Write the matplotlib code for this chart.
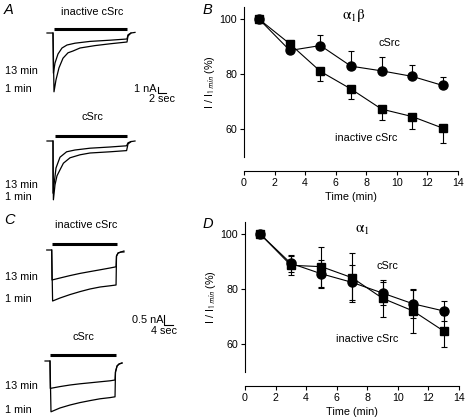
import numpy as np
import matplotlib
matplotlib.use('Agg')
import matplotlib.pyplot as plt

plt.rcParams['font.family'] = ['Liberation Sans', 'DejaVu Sans']
plt.rcParams['mathtext.fontset'] = 'stix'

# Time course data (panel B: alpha1 beta, panel D: alpha1)
timeMin = [1, 3, 5, 7, 9, 11, 13]
b_csrc = [100, 88.7, 90.5, 83.0, 81.3, 79.3, 76.0]
b_csrcErr = [0, 0.5, 4.0, 5.5, 5.0, 4.2, 3.0]
b_inact = [100, 91.1, 81.1, 74.7, 67.4, 64.7, 60.5]
b_inactErr = [0, 0.5, 3.6, 3.7, 3.8, 4.6, 5.5]

d_csrc = [100, 89.4, 85.6, 82.5, 78.6, 74.7, 72.1]
d_csrcErr = [0, 3.0, 5.0, 6.4, 4.2, 5.0, 3.8]
d_inact = [100, 88.7, 88.2, 84.2, 76.7, 72.1, 64.8]
d_inactErr = [0, 3.4, 7.3, 8.9, 6.7, 8.0, 5.7]

# Current traces (time in s, current in nA)
# A, inactive cSrc
a1_t13 = [-1.5, 0, 0.1, 0.5, 1.25, 2.25, 3.5, 5.5, 9.25, 14.25, 18.5, 18.75, 19.5, 20.5]
a1_i13 = [0, 0, -6.7, -5.0, -3.5, -2.5, -2.0, -1.7, -1.4, -1.2, -1.0, -0.3, 0, 0.1]
a1_t1 = [0, 0.25, 0.75, 1.5, 2.5, 3.75, 5, 6.75, 10.5, 14.25, 18.5, 18.75, 19.5]
a1_i1 = [0, -9.8, -7.8, -5.8, -4.2, -3.3, -3.0, -2.5, -2.1, -1.8, -1.5, -0.5, 0]
# A, cSrc
a2_t13 = [-1.5, 0, 0, 0.75, 1.75, 3.4, 5.5, 9.25, 14.25, 18.4, 18.75, 19.5, 20.5]
a2_i13 = [0, 0, -8.7, -4.5, -2.7, -1.8, -1.5, -1.2, -1.0, -0.8, -0.3, -0.1, 0]
a2_t1 = [0, 0.1, 0.5, 1, 1.75, 2.6, 4.25, 6.75, 9.25, 14.25, 18.4, 18.75, 19.5]
a2_i1 = [0, -9.8, -7.3, -5.8, -4.8, -3.7, -2.8, -2.3, -2.0, -1.8, -1.6, -0.5, -0.1]
# C, inactive cSrc
c1_t13 = [-2.2, 0, 0.13, 3.7, 8.1, 12.6, 17.0, 21.5, 25.9, 28.6, 28.8, 29.5, 30.8, 32.1]
c1_i13 = [0, 0, -1.5, -1.4, -1.28, -1.17, -1.08, -0.99, -0.9, -0.84, -0.3, -0.15, -0.1, -0.1]
c1_t1 = [0, 0.4, 3.7, 8.1, 12.6, 17.0, 21.5, 25.9, 28.6, 28.8, 29.5, 30.8, 32.1]
c1_i1 = [0, -2.55, -2.4, -2.23, -2.08, -1.95, -1.85, -1.79, -1.75, -0.3, -0.15, -0.1, -0.05]
# C, cSrc
c2_t13 = [-2.2, 0, 0.13, 4.4, 8.9, 13.3, 17.8, 22.2, 26.7, 28.9, 29.1, 29.8, 30.7, 32]
c2_i13 = [0, 0, -1.37, -1.28, -1.2, -1.14, -1.09, -1.04, -0.99, -0.95, -0.55, -0.25, -0.15, -0.1]
c2_t1 = [0, 0.44, 4.4, 8.9, 13.3, 17.8, 22.2, 26.7, 28.9, 29.1, 29.8, 30.7, 32]
c2_i1 = [0, -2.54, -2.35, -2.2, -2.08, -1.98, -1.89, -1.83, -1.79, -0.55, -0.25, -0.15, -0.1]

# Agonist application bars (start, end, level)
a1_bar = (0.25, 18.5, 0.67)
a2_bar = (0.5, 18.5, 0.83)
c1_bar = (0, 28.9, 0.29)
c2_bar = (0, 29.3, 0.3)

W, H = 468, 420
fig = plt.figure(figsize=(W / 100, H / 100), dpi=100)

def fx(x):
    return x / W

def fy(y):
    return 1 - y / H

# Transparent full-figure axes, scaled so time 0 / current 0 land at (x0, y0) pixels
def trace_axes(x0, y0, px_s, px_na):
    ax = fig.add_axes([0, 0, 1, 1])
    ax.set_xlim(-x0 / px_s, (W - x0) / px_s)
    ax.set_ylim((y0 - H) / px_na, y0 / px_na)
    ax.axis('off')
    ax.patch.set_alpha(0)
    return ax

def draw_traces(ax, t13, i13, t1, i1, bar):
    ax.plot(t13, i13, color='black', lw=0.9)
    ax.plot(t1, i1, color='black', lw=0.9)
    ax.plot([bar[0], bar[1]], [bar[2], bar[2]], color='black', lw=2.2, solid_capstyle='butt')

axA1 = trace_axes(53, 33, 4.0, 6.0)
draw_traces(axA1, a1_t13, a1_i13, a1_t1, a1_i1, a1_bar)
axA1.plot([26.25, 26.25, 28.25], [-8.95, -9.95, -9.95], color='black', lw=0.8)

axA2 = trace_axes(53, 141, 4.0, 6.0)
draw_traces(axA2, a2_t13, a2_i13, a2_t1, a2_i1, a2_bar)

axC1 = trace_axes(51.7, 250, 2.25, 20.0)
draw_traces(axC1, c1_t13, c1_i13, c1_t1, c1_i1, c1_bar)
axC1.plot([49.9, 49.9, 53.9], [-3.25, -3.75, -3.75], color='black', lw=0.8)

axC2 = trace_axes(50, 361, 2.25, 20.0)
draw_traces(axC2, c2_t13, c2_i13, c2_t1, c2_i1, c2_bar)

fs = 7.8
# Trace labels
fig.text(fx(4), fy(10), 'A', fontsize=10.5, style='italic', va='center')
fig.text(fx(92), fy(12), 'inactive cSrc', fontsize=fs, ha='center', va='center')
fig.text(fx(5), fy(70.5), '13 min', fontsize=fs, va='center')
fig.text(fx(5), fy(89), '1 min', fontsize=fs, va='center')
fig.text(fx(157), fy(89), '1 nA', fontsize=fs, ha='right', va='center')
fig.text(fx(162), fy(99.5), '2 sec', fontsize=fs, ha='center', va='center')
fig.text(fx(92), fy(117), 'cSrc', fontsize=fs, ha='center', va='center')
fig.text(fx(5), fy(185), '13 min', fontsize=fs, va='center')
fig.text(fx(5), fy(197.5), '1 min', fontsize=fs, va='center')

fig.text(fx(4), fy(220), 'C', fontsize=10.5, style='italic', va='center')
fig.text(fx(86), fy(225), 'inactive cSrc', fontsize=fs, ha='center', va='center')
fig.text(fx(5), fy(277), '13 min', fontsize=fs, va='center')
fig.text(fx(5), fy(299.5), '1 min', fontsize=fs, va='center')
fig.text(fx(163), fy(320), '0.5 nA', fontsize=fs, ha='right', va='center')
fig.text(fx(164), fy(331.5), '4 sec', fontsize=fs, ha='center', va='center')
fig.text(fx(83), fy(337), 'cSrc', fontsize=fs, ha='center', va='center')
fig.text(fx(5), fy(386), '13 min', fontsize=fs, va='center')
fig.text(fx(5), fy(410), '1 min', fontsize=fs, va='center')

fig.text(fx(203), fy(10), 'B', fontsize=10.5, style='italic', va='center')
fig.text(fx(203), fy(224), 'D', fontsize=10.5, style='italic', va='center')

# Time course plots
def time_plot(rect, csrc, csrcErr, inact, inactErr, both):
    ax = fig.add_axes(rect)
    if both:
        errC = csrcErr
        errI = inactErr
    else:
        errC = [np.zeros(len(csrcErr)), csrcErr]
        errI = [inactErr, np.zeros(len(inactErr))]
    ax.errorbar(timeMin, inact, yerr=errI, color='black', marker='s', ms=6.3,
                lw=0.8, elinewidth=0.8, capsize=2, capthick=0.8)
    ax.errorbar(timeMin, csrc, yerr=errC, color='black', marker='o', ms=6.5,
                lw=0.8, elinewidth=0.8, capsize=2, capthick=0.8)
    ax.set_xlim(0, 14)
    ax.set_ylim(50, 104.5)
    ax.set_xticks(range(0, 15, 2))
    ax.set_yticks([60, 80, 100])
    ax.spines['top'].set_visible(False)
    ax.spines['right'].set_visible(False)
    ax.spines['bottom'].set_position(('outward', 10))
    ax.spines['left'].set_linewidth(0.8)
    ax.spines['bottom'].set_linewidth(0.8)
    ax.tick_params(direction='out', length=3, width=0.8, labelsize=7.7, pad=2)
    ax.set_xlabel('Time (min)', fontsize=fs, labelpad=3)
    ax.set_ylabel(r'I / I$_{\mathsf{1\ min}}$ (%)', fontsize=fs, labelpad=2)
    ax.patch.set_alpha(0)
    return ax

axB = time_plot([244 / W, 1 - 157 / H, 214 / W, 150 / H], b_csrc, b_csrcErr, b_inact, b_inactErr, False)
axB.text(7.2, 101.5, r'$\mathrm{\alpha_1\beta}$', fontsize=11, ha='center', va='center')
axB.text(9.5, 91.3, 'cSrc', fontsize=fs, ha='center', va='center')
axB.text(8.0, 57, 'inactive cSrc', fontsize=fs, ha='center', va='center')

axD = time_plot([245 / W, 1 - 371.8 / H, 214 / W, 150 / H], d_csrc, d_csrcErr, d_inact, d_inactErr, True)
axD.text(7.65, 101.6, r'$\mathrm{\alpha_1}$', fontsize=11, ha='center', va='center')
axD.text(9.3, 88.4, 'cSrc', fontsize=fs, ha='center', va='center')
axD.text(8.0, 61.8, 'inactive cSrc', fontsize=fs, ha='center', va='center')

fig.savefig('out.png', dpi=100)
